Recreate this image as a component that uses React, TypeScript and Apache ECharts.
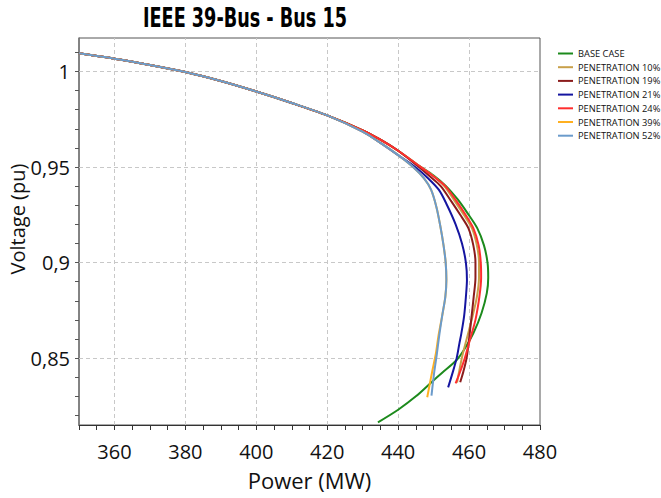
import React, { useEffect, useRef } from "react";
import * as echarts from "echarts";

const chartTitle = "IEEE 39-Bus - Bus 15";
const xName = "Power (MW)";
const yName = "Voltage (pu)";

const seriesNames = [
  "BASE CASE",
  "PENETRATION 10%",
  "PENETRATION 19%",
  "PENETRATION 21%",
  "PENETRATION 24%",
  "PENETRATION 39%",
  "PENETRATION 52%",
];
const seriesColors = ["#1c8a1c", "#c8a04a", "#8b1c1c", "#1515a0", "#ff2e2e", "#ffb020", "#6b9bcb"];

// shared upper part of all curves
const commonPower = [350, 360, 370, 380, 390, 400, 410, 420];
const commonVoltage = [1.0095, 1.0067, 1.0034, 0.9997, 0.995, 0.9895, 0.9835, 0.977];
const upperPower = [430, 435, 440];
const upperVoltage = [0.9692, 0.9643, 0.9585];
const lowerPower = [430, 435, 440];
const lowerVoltage = [0.9685, 0.9626, 0.9562];

const basePower = [446, 450, 453.5, 456.8, 459.5, 462.3, 464.2, 465.2, 465.4, 465.0, 463.5, 461.2, 458.8, 456.5, 452.5, 449.4, 445, 440, 434.3];
const baseVoltage = [0.9505, 0.9455, 0.94, 0.933, 0.926, 0.918, 0.909, 0.9, 0.892, 0.884, 0.8735, 0.863, 0.855, 0.849, 0.8425, 0.8374, 0.83, 0.823, 0.8164];

const p10Power = [446, 450, 453, 456, 458.5, 460.8, 462.2, 462.8, 462.8, 462.2, 461, 459.6, 458.2, 457.3, 456.6];
const p10Voltage = [0.9505, 0.9452, 0.94, 0.932, 0.925, 0.918, 0.909, 0.9, 0.892, 0.882, 0.872, 0.862, 0.852, 0.844, 0.8372];

const p19Power = [445.5, 449, 452, 455, 457.5, 459.8, 461.2, 461.8, 461.8, 461.3, 460.6, 460, 459.3, 458.4, 457.5];
const p19Voltage = [0.9505, 0.945, 0.94, 0.932, 0.925, 0.918, 0.909, 0.9, 0.892, 0.882, 0.87, 0.86, 0.85, 0.843, 0.8374];

const p21Power = [444.8, 448.5, 451.5, 453.8, 456.2, 458, 459.1, 459.4, 459.1, 458.6, 457.8, 457.3, 456.5, 455.3, 454.1];
const p21Voltage = [0.95, 0.944, 0.938, 0.93, 0.92, 0.91, 0.9, 0.891, 0.882, 0.872, 0.8627, 0.858, 0.85, 0.842, 0.8347];

const p24Power = [446, 450, 453.3, 456.5, 459, 461.2, 462.7, 463.3, 463.4, 462.9, 461.8, 460.3, 458.8, 457.5, 456.2];
const p24Voltage = [0.9505, 0.945, 0.94, 0.932, 0.925, 0.918, 0.909, 0.9, 0.892, 0.882, 0.87, 0.86, 0.85, 0.843, 0.8368];

const p39Power = [444.2, 447.3, 449.3, 450.8, 451.9, 452.8, 453.4, 453.6, 453.3, 452.4, 451.4, 450.6, 449.6, 448.2];
const p39Voltage = [0.95, 0.944, 0.938, 0.929, 0.919, 0.909, 0.9, 0.891, 0.882, 0.872, 0.862, 0.852, 0.843, 0.8295];

const p52Power = [444.2, 447.3, 449.3, 450.8, 451.9, 452.8, 453.4, 453.6, 453.3, 452.4, 451.6, 450.9, 450.2, 449.4];
const p52Voltage = [0.95, 0.944, 0.938, 0.929, 0.919, 0.909, 0.9, 0.891, 0.882, 0.872, 0.862, 0.852, 0.843, 0.8304];

const xLabelValues = [360, 380, 400, 420, 440, 460, 480];
const yLabelValues = [0.85, 0.9, 0.95, 1];
const xMin = 350;
const xMax = 480;
const yMin = 0.815;
const yMax = 1.0175;

const xTickValues: number[] = [];
for (let v = 350; v <= 480; v += 5) xTickValues.push(v);
const yTickValues: number[] = [];
for (let k = 82; k <= 101; k++) yTickValues.push(k / 100);

const zip = (p: number[], v: number[]) => p.map((x, i) => [x, v[i]]);

const curves = [
  [...zip(commonPower, commonVoltage), ...zip(upperPower, upperVoltage), ...zip(basePower, baseVoltage)],
  [...zip(commonPower, commonVoltage), ...zip(upperPower, upperVoltage), ...zip(p10Power, p10Voltage)],
  [...zip(commonPower, commonVoltage), ...zip(upperPower, upperVoltage), ...zip(p19Power, p19Voltage)],
  [...zip(commonPower, commonVoltage), ...zip(lowerPower, lowerVoltage), ...zip(p21Power, p21Voltage)],
  [...zip(commonPower, commonVoltage), ...zip(upperPower, upperVoltage), ...zip(p24Power, p24Voltage)],
  [...zip(commonPower, commonVoltage), ...zip(lowerPower, lowerVoltage), ...zip(p39Power, p39Voltage)],
  [...zip(commonPower, commonVoltage), ...zip(lowerPower, lowerVoltage), ...zip(p52Power, p52Voltage)],
];

const labelFont = "'Open Sans', 'Noto Sans', sans-serif";

export default function App() {
  const ref = useRef<HTMLDivElement>(null);
  useEffect(() => {
    if (!ref.current) return;
    const chart = echarts.init(ref.current, undefined, { renderer: "svg" });
    const gridLineStyle = { color: "#c8c8c8", width: 1, type: [4, 3] as any };
    chart.setOption({
      animation: false,
      backgroundColor: "#ffffff",
      grid: {
        left: 79,
        right: 121,
        top: 38,
        bottom: 73,
        show: true,
        borderColor: "#555555",
        borderWidth: 1,
        containLabel: false,
      },
      graphic: [
        {
          type: "text",
          x: 245,
          y: 18,
          scaleX: 0.755,
          style: {
            text: chartTitle,
            x: 0,
            y: 0,
            align: "center",
            verticalAlign: "middle",
            textAlign: "center",
            textVerticalAlign: "middle",
            font: "bold 26px 'DejaVu Sans Condensed', 'DejaVu Sans', sans-serif",
            fill: "#000000",
          },
        },
        {
          type: "text",
          x: 17.5,
          y: 219,
          rotation: Math.PI / 2,
          style: {
            text: yName,
            x: 0,
            y: 0,
            align: "center",
            verticalAlign: "middle",
            textAlign: "center",
            textVerticalAlign: "middle",
            font: "20px " + labelFont,
            fill: "#111111",
          },
        },
      ],
      legend: {
        orient: "vertical",
        left: 553,
        top: 43.5,
        icon: "rect",
        itemWidth: 15,
        itemHeight: 2,
        itemGap: 3.7,
        data: seriesNames,
        textStyle: {
          fontSize: 9.3,
          lineHeight: 10,
          fontFamily: labelFont,
          color: "#111111",
        },
      },
      xAxis: {
        type: "value",
        min: xMin,
        max: xMax,
        name: xName,
        nameLocation: "middle",
        nameGap: 44,
        nameTextStyle: { fontSize: 22, fontFamily: labelFont, color: "#111111" },
        axisLine: { show: true, onZero: false, lineStyle: { color: "#333333", width: 1 } },
        axisTick: { show: true, length: 5, customValues: xTickValues, lineStyle: { color: "#333333" } },
        axisLabel: {
          customValues: xLabelValues,
          fontSize: 20,
          margin: 16,
          fontFamily: labelFont,
          color: "#111111",
        },
        splitLine: { show: false },
      },
      yAxis: {
        type: "value",
        min: yMin,
        max: yMax,
        axisLine: { show: true, onZero: false, lineStyle: { color: "#777777", width: 1.5 } },
        axisTick: { show: true, length: 4, customValues: yTickValues, lineStyle: { color: "#555555" } },
        axisLabel: {
          customValues: yLabelValues,
          fontSize: 20,
          margin: 9,
          fontFamily: labelFont,
          color: "#111111",
          formatter: (v: number) => String(v).replace(".", ","),
        },
        splitLine: { show: false },
      },
      series: [
        {
          type: "line",
          name: "grid",
          data: [[xMin, yMax]],
          symbol: "none",
          lineStyle: { opacity: 0 },
          silent: true,
          z: 1,
          markLine: {
            silent: true,
            symbol: "none",
            z: 1,
            label: { show: false },
            lineStyle: gridLineStyle,
            emphasis: { disabled: true },
            data: [
              ...xLabelValues.filter((v) => v < xMax).map((v) => ({ xAxis: v })),
              ...yLabelValues.map((v) => ({ yAxis: v })),
            ],
          },
        },
        ...seriesNames.map((name, i) => ({
          type: "line",
          name,
          data: curves[i],
          symbol: "none",
          showSymbol: false,
          smooth: 0.3,
          z: 3,
          lineStyle: { width: 2, color: seriesColors[i] },
          itemStyle: { color: seriesColors[i] },
        })),
      ],
    });
    return () => chart.dispose();
  }, []);
  return (
    <div
      ref={ref}
      style={{ position: "fixed", left: 0, top: 0, width: 661, height: 498, background: "#fff" }}
    />
  );
}
